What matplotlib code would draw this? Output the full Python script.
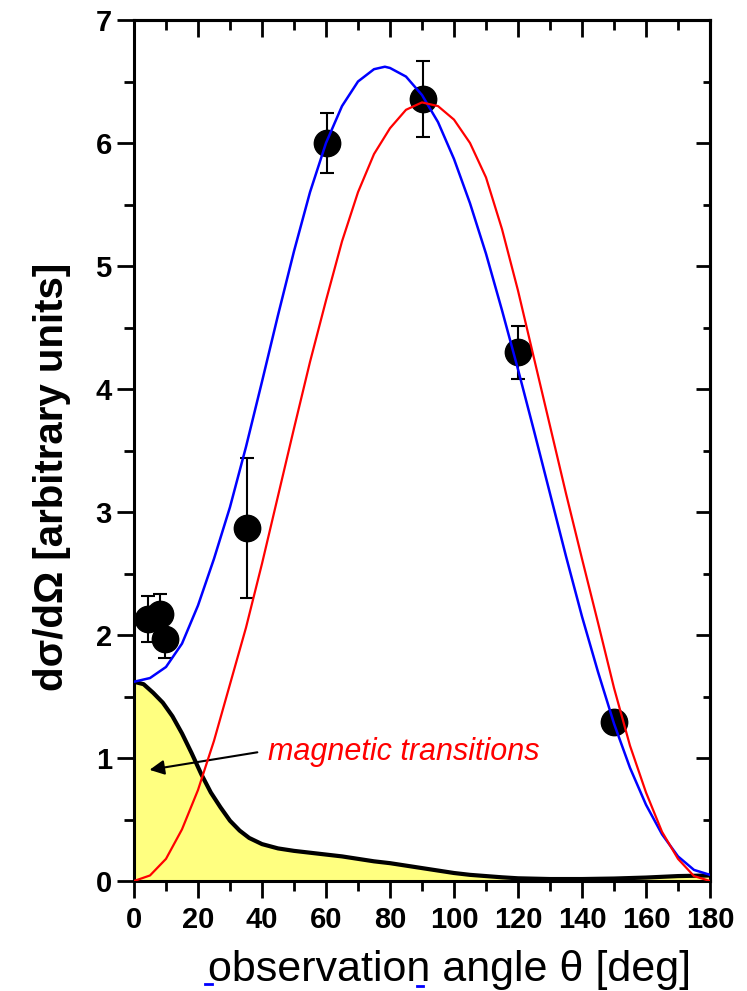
import matplotlib.pyplot as plt
from matplotlib.ticker import MultipleLocator
from matplotlib.lines import Line2D

plt.rcParams['font.family'] = ['Liberation Sans', 'DejaVu Sans']

# measured points
theta_pts = [4.5, 8.0, 9.7, 35.2, 60.2, 90.2, 120.1, 150.1]
dsig_pts = [2.13, 2.17, 1.97, 2.87, 6.00, 6.36, 4.30, 1.29]
dsig_err = [0.19, 0.16, 0.16, 0.57, 0.24, 0.31, 0.215, 0.05]

# blue curve (total)
theta_blue = [0, 5, 10, 15, 20, 25, 30, 35, 40, 45, 50, 55, 60, 65, 70, 75, 78.4,
              80, 85, 90, 95, 100, 105, 110, 115, 120, 125, 130, 135, 140, 145,
              150, 155, 160, 165, 170, 175, 180]
dsig_blue = [1.62, 1.65, 1.74, 1.93, 2.24, 2.62, 3.04, 3.53, 4.06, 4.60, 5.12, 5.60,
             6.00, 6.30, 6.50, 6.60, 6.62, 6.61, 6.54, 6.39, 6.17, 5.87, 5.51, 5.10,
             4.64, 4.16, 3.66, 3.15, 2.64, 2.15, 1.70, 1.28, 0.92, 0.62, 0.38, 0.20,
             0.09, 0.05]

# red curve
theta_red = [0, 5, 10, 15, 20, 25, 30, 35, 40, 45, 50, 55, 60, 65, 70, 75, 80, 85,
             90, 95, 100, 105, 110, 115, 120, 125, 130, 135, 140, 145, 150, 155,
             160, 165, 170, 175, 180]
dsig_red = [0, 0.045, 0.18, 0.42, 0.74, 1.14, 1.60, 2.06, 2.58, 3.13, 3.68, 4.22,
            4.72, 5.20, 5.60, 5.91, 6.12, 6.27, 6.33, 6.30, 6.19, 6.00, 5.72, 5.30,
            4.80, 4.25, 3.70, 3.15, 2.62, 2.10, 1.57, 1.10, 0.72, 0.40, 0.18, 0.04, 0]

# magnetic transitions (black, filled)
theta_mag = [0, 3, 6, 9, 12, 15, 18, 21, 24, 27, 30, 33, 36, 40, 45, 50, 55, 60,
             65, 70, 75, 80, 85, 90, 95, 100, 105, 110, 115, 120, 130, 140, 150,
             160, 170, 180]
dsig_mag = [1.62, 1.60, 1.53, 1.45, 1.34, 1.20, 1.04, 0.87, 0.72, 0.60, 0.49, 0.41,
            0.35, 0.30, 0.265, 0.245, 0.23, 0.215, 0.20, 0.18, 0.16, 0.145, 0.125,
            0.105, 0.085, 0.065, 0.05, 0.04, 0.03, 0.022, 0.016, 0.016, 0.02,
            0.028, 0.04, 0.045]

fig = plt.figure(figsize=(7.47, 9.91), dpi=100)
ax = fig.add_axes([134/747, 1-881/991, 576/747, 861/991])

ax.fill_between(theta_mag, dsig_mag, 0, color='#ffff80', zorder=1, lw=0)
ax.plot(theta_mag, dsig_mag, color='black', lw=3, zorder=2)
ax.errorbar(theta_pts, dsig_pts, yerr=dsig_err, fmt='o', color='black', ms=19,
            capsize=5, elinewidth=1.5, capthick=1.5, zorder=3)
ax.plot(theta_blue, dsig_blue, color='#0000ff', lw=1.8, zorder=4)
ax.plot(theta_red, dsig_red, color='#ff0000', lw=1.6, zorder=5)

ax.annotate('', xy=(4, 0.90), xytext=(39.4, 1.05),
            arrowprops=dict(arrowstyle='-|>', color='black', lw=1.5, mutation_scale=22))
ax.text(41.9, 0.98, 'magnetic transitions', color='red', style='italic',
        fontsize=22, va='baseline')

ax.set_xlim(0, 180)
ax.set_ylim(0, 7)
ax.set_xticks(range(0, 181, 20))
ax.set_yticks(range(0, 8))
ax.xaxis.set_minor_locator(MultipleLocator(10))
ax.yaxis.set_minor_locator(MultipleLocator(0.5))
ax.tick_params(which='both', direction='out', width=2, labelsize=21, top=False, right=False)
ax.tick_params(which='major', length=12)
ax.tick_params(which='minor', length=7)
ax.tick_params(axis='x', pad=6)
ax.tick_params(axis='y', pad=4)
for lab in ax.get_xticklabels() + ax.get_yticklabels():
    lab.set_fontweight('bold')
for sp in ax.spines.values():
    sp.set_linewidth(2.2)

top = ax.secondary_xaxis('top')
top.set_xticks(range(0, 181, 20))
top.xaxis.set_minor_locator(MultipleLocator(10))
top.tick_params(which='both', direction='in', width=2, labeltop=False)
top.tick_params(which='major', length=12)
top.tick_params(which='minor', length=7)
top.spines['top'].set_linewidth(2.2)

right = ax.secondary_yaxis('right')
right.set_yticks(range(0, 8))
right.yaxis.set_minor_locator(MultipleLocator(0.5))
right.tick_params(which='both', direction='in', width=2, labelright=False)
right.tick_params(which='major', length=10)
right.tick_params(which='minor', length=5)
right.spines['right'].set_linewidth(2.2)

fig.text(52/747, 1-477/991, 'dσ/dΩ [arbitrary units]', rotation=90, ha='center',
         va='center', fontsize=29, fontweight='bold')
fig.text(450/747, 1-981/991, 'observation angle θ [deg]', ha='center',
         va='baseline', fontsize=31)

# small blue marks under the axis title
fig.add_artist(Line2D([205/747, 212/747], [1-984/991]*2, color='blue', lw=2))
fig.add_artist(Line2D([417/747, 423/747], [1-986/991]*2, color='blue', lw=2))

fig.savefig('out.png', dpi=100)
